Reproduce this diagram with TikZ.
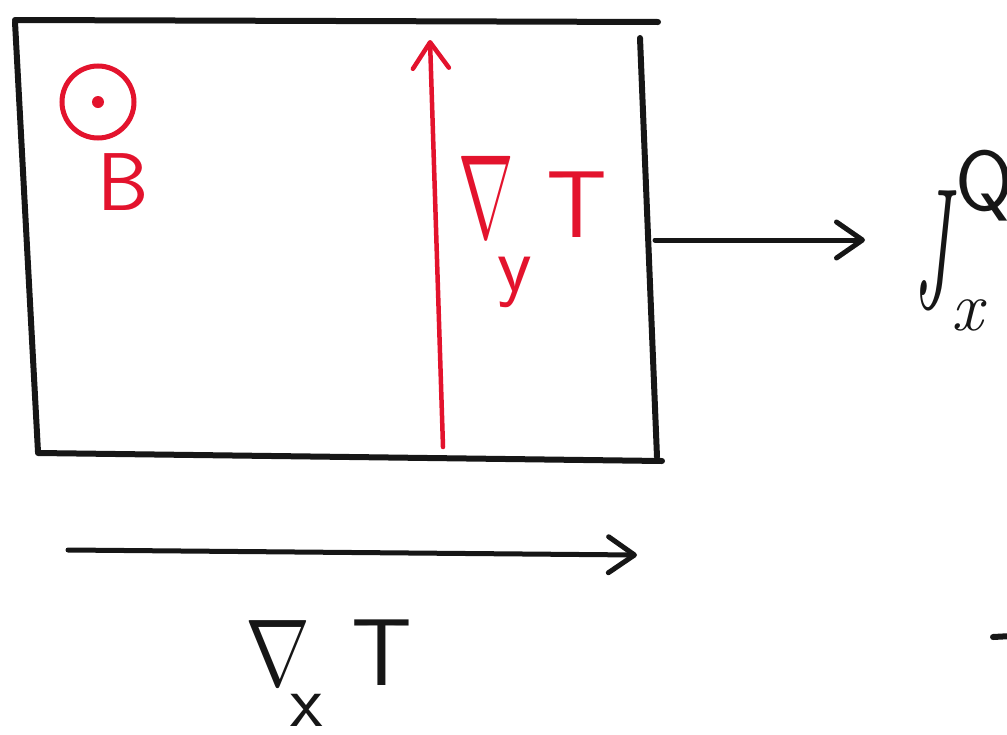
\RequirePackage{fix-cm}
\documentclass[tikz,border=0pt]{standalone}
\usepackage{fontspec}
\usepackage{xcolor}
\usepackage{graphicx}
\usepackage{tikz}
\usetikzlibrary{arrows.meta,positioning}
\definecolor{inkred}{HTML}{E3132D}
\definecolor{inkblack}{HTML}{161616}
\newcommand{\handnabla}[2]{\scalebox{#1}[#2]{$\nabla$}}
\tikzset{
  penline/.style={
    draw=#1, line width=6pt, line cap=round, line join=round
  },
  penline/.default=inkblack,
  penarrow/.style={
    -{Straight Barb[length=26pt, width=36pt, round]},
    line width=5pt, line cap=round, color=#1
  },
  penarrow/.default=inkblack,
  handlabel/.style={
    font=\fontsize{95}{110}\selectfont\sffamily, color=#1, inner sep=0pt
  },
  handlabel/.default=inkblack,
}

\begin{document}
\begin{tikzpicture}[x=1pt, y=-1pt]
  \useasboundingbox (0,0) rectangle (1007,734);

  % Sample
  \draw[penline] (15,20) -- (658,22);
  \draw[penline] (15,22) -- (38,452);
  \draw[penline] (38,453) -- (662,461);
  \draw[penline] (640,38) -- (657,457);

  % Field out of the page
  \node[circle, draw=inkred, line width=5pt, minimum size=72pt, inner sep=0pt] (bfield) at (98,102) {};
  \fill[inkred] (bfield.center) circle (6pt);
  \node[handlabel=inkred, font=\fontsize{82}{90}\selectfont\sffamily] (blabel) at (123,182) {B};

  % Transverse gradient
  \coordinate (gradybot) at (443,447);
  \coordinate (gradytop) at (430,40);
  \draw[penarrow=inkred, line width=4.5pt] (gradybot) -- (gradytop);
  \node[handlabel=inkred, anchor=base west] (gradylabel) at (458,237)
    {\handnabla{0.7}{1.25}\kern-16pt\raisebox{-54pt}{\fontsize{80}{90}\selectfont y}\kern14pt T};

  % Heat current
  \coordinate (heatstart) at (655,240);
  \node[handlabel, anchor=base west] (jlabel) at (913,307)
    {\scalebox{0.75}[1.8]{\rmfamily\itshape J}\rlap{\kern6pt\raisebox{97pt}{\fontsize{85}{90}\selectfont Q}}\kern2pt\raisebox{-23pt}{\fontsize{70}{80}\selectfont\rmfamily\itshape x}};
  \draw[penarrow] (heatstart) -- ([xshift=-48pt]heatstart -| jlabel.west);

  % Longitudinal gradient
  \coordinate (gradxstart) at (68,550);
  \coordinate (gradxend) at (637,555);
  \draw[penarrow] (gradxstart) -- (gradxend);
  \node[handlabel, anchor=base west] (gradxlabel) at (245,685)
    {\handnabla{0.82}{1.0}\kern-20pt\raisebox{-41pt}{\fontsize{75}{85}\selectfont x}\kern29pt T};

  % stroke cut off at the edge
  \draw[penline] (993,637) -- (1012,636);
\end{tikzpicture}
\end{document}
